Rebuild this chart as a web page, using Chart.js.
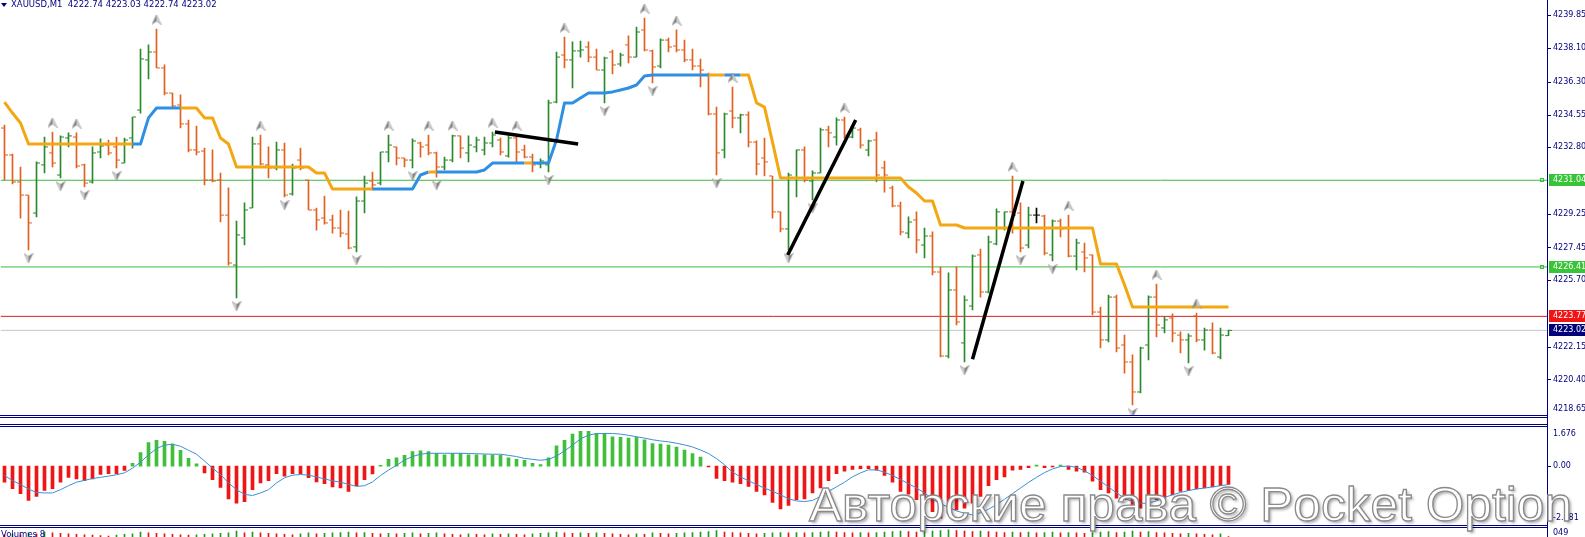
<!DOCTYPE html>
<html>
<head>
<meta charset="utf-8">
<title>XAUUSD,M1</title>
<script src="https://cdn.jsdelivr.net/npm/chart.js@4.4.1/dist/chart.umd.min.js"></script>
<style>
  html, body { margin: 0; padding: 0; background: #fff; overflow: hidden; }
  #wrap { position: relative; width: 1585px; height: 537px; overflow: hidden; background: #fff; }
  #wrap canvas { position: absolute; left: 0; }
  .sep { position: absolute; left: 0; width: 1548px; height: 1px; background: #000080; }
  #axisLine { position: absolute; left: 1547px; top: 0; width: 1px; height: 537px; background: #000080; }
  .txt { position: absolute; font-family: "DejaVu Sans", sans-serif; color: #000080; white-space: pre; }
  #header { left: 11px; top: -1px; font-size: 8.5px; }
  #tri { position: absolute; left: 1px; top: 3px; width: 0; height: 0;
         border-left: 3px solid transparent; border-right: 3px solid transparent; border-top: 4px solid #000080; }
  #watermark { position: absolute; left: 809px; top: 480px; font-family: "Liberation Sans", Arial, sans-serif;
               font-size: 49px; line-height: 49px; color: #fff; -webkit-text-stroke: 1.3px #8a8a8a;
               text-shadow: 2px 2px 3px rgba(0,0,0,.35); transform-origin: 0 0; white-space: nowrap; }
</style>
</head>
<body>
<div id="wrap">
  <canvas id="main" width="1585" height="415" style="top:0"></canvas>
  <canvas id="osc" width="1585" height="97" style="top:427px"></canvas>
  <canvas id="vol" width="1585" height="9" style="top:528px"></canvas>
  <div class="sep" style="top:415px"></div>
  <div class="sep" style="top:417px"></div>
  <div class="sep" style="top:424px"></div>
  <div class="sep" style="top:426px"></div>
  <div class="sep" style="top:525px"></div>
  <div class="sep" style="top:527px"></div>
  <div id="axisLine"></div>
  <div id="tri"></div>
  <div id="header" class="txt">XAUUSD,M1  4222.74 4223.03 4222.74 4223.02</div>
  <div class="txt" style="left:1px;top:529px;font-size:8.5px">Volumes 8</div>
  <div class="txt" style="left:1553px;top:528px;font-size:8px">049</div>
  <div id="watermark">Авторские права © Pocket Option</div>
</div>
<script>
// --- данные: котировки XAUUSD M1 (оценка по картинке) ---
const barOpen = [
  4233.83,4232.39,4230.95,4230.25,4229.29,4231.86,4232.50,4231.32,4233.30,4233.35,
  4231.86,4230.95,4232.55,4232.92,4232.82,4231.96,4233.30,4234.79,4237.47,4237.89,
  4237.04,4235.70,4235.06,4234.05,4232.66,4232.60,4231.05,4231.05,4229.18,4226.51,
  4227.96,4229.56,4232.98,4231.86,4231.70,4232.66,4230.31,4232.12,4231.05,4229.45,
  4229.02,4228.92,4228.49,4228.17,4227.48,4229.93,4231.00,4230.89,4232.55,4232.82,
  4232.23,4232.12,4233.03,4232.92,4232.50,4231.75,4232.12,4233.41,4232.50,4232.82,
  4232.66,4233.03,4233.19,4232.34,4233.30,4232.66,4232.28,4231.91,4231.86,4235.22,
  4237.73,4237.47,4237.95,4238.16,4237.62,4236.93,4237.89,4237.25,4238.27,4237.62,
  4239.07,4237.95,4237.14,4238.53,4238.21,4238.00,4237.47,4237.14,4236.66,4234.58,
  4232.66,4234.74,4234.37,4234.53,4233.08,4232.23,4231.27,4229.35,4228.44,4231.16,
  4232.66,4231.00,4231.43,4233.73,4233.35,4234.26,4233.35,4233.73,4232.66,4233.19,
  4231.70,4230.63,4229.67,4228.22,4228.92,4227.58,4228.06,4226.14,4221.65,4225.18,
  4222.35,4224.32,4227.05,4225.07,4227.64,4228.49,4229.35,4229.29,4227.58,4229.18,
  4229.13,4227.05,4228.86,4228.49,4226.99,4227.21,4227.05,4224.00,4222.51,4224.80,
  4222.24,4221.33,4219.73,4222.24,4224.80,4223.15,4223.68,4222.77,4222.51,4223.79,
  4222.51,4223.04,4221.60,4222.74
];
const barHigh = [
  4233.99,4232.44,4231.75,4230.25,4232.02,4233.35,4233.62,4233.41,4233.57,4233.57,
  4231.91,4232.82,4233.25,4233.19,4233.35,4233.30,4234.42,4238.05,4238.27,4239.12,
  4237.20,4235.70,4235.60,4234.26,4233.94,4232.76,4232.66,4231.43,4230.63,4228.86,
  4229.83,4233.35,4233.46,4232.82,4233.08,4233.03,4231.91,4232.76,4231.05,4229.56,
  4230.20,4229.18,4229.45,4229.40,4230.15,4231.27,4231.48,4232.55,4233.46,4232.82,
  4232.23,4233.25,4233.08,4233.46,4232.55,4232.28,4233.46,4233.41,4233.41,4233.35,
  4233.35,4233.62,4233.30,4233.46,4233.46,4232.92,4232.44,4232.18,4235.33,4237.89,
  4238.69,4238.43,4238.48,4238.43,4238.05,4237.62,4238.00,4237.84,4238.75,4239.23,
  4239.71,4238.00,4238.59,4238.64,4239.07,4238.53,4238.05,4237.52,4236.77,4234.95,
  4234.63,4236.02,4234.58,4234.69,4233.14,4233.30,4231.27,4229.35,4231.43,4232.66,
  4232.82,4231.54,4233.83,4233.94,4234.37,4234.42,4233.89,4233.83,4233.19,4233.62,
  4232.07,4230.73,4229.88,4229.08,4229.35,4228.49,4228.28,4226.41,4226.09,4226.41,
  4224.86,4227.05,4227.37,4228.06,4229.51,4229.35,4231.27,4229.83,4229.61,4229.56,
  4229.18,4228.92,4228.97,4229.18,4227.90,4227.69,4227.05,4224.27,4224.91,4224.91,
  4222.77,4221.71,4222.13,4224.86,4225.50,4223.74,4223.90,4222.94,4222.83,4223.95,
  4223.15,4223.42,4223.15,4223.03
];
const barLow = [
  4231.05,4230.84,4229.02,4227.32,4229.08,4231.43,4231.75,4231.16,4232.82,4231.70,
  4230.68,4230.89,4232.23,4232.39,4231.70,4231.96,4232.76,4234.63,4236.45,4237.04,
  4235.60,4234.95,4233.83,4232.55,4232.39,4230.79,4230.95,4228.81,4226.51,4224.75,
  4227.58,4229.56,4231.86,4231.16,4231.59,4230.15,4230.25,4231.59,4229.45,4228.38,
  4228.70,4228.22,4228.01,4227.37,4227.21,4229.29,4230.52,4230.79,4232.02,4231.86,
  4231.75,4231.70,4232.28,4232.39,4231.21,4231.59,4232.02,4232.23,4232.02,4232.55,
  4232.39,4232.82,4232.39,4232.28,4232.02,4232.23,4231.48,4231.70,4231.48,4235.17,
  4237.04,4235.97,4237.62,4237.36,4236.93,4235.17,4236.72,4237.14,4237.31,4237.62,
  4237.95,4236.24,4237.04,4237.89,4237.89,4237.36,4236.93,4236.02,4234.53,4231.32,
  4232.23,4233.83,4233.57,4232.82,4231.32,4231.27,4229.02,4228.28,4227.32,4230.15,
  4230.95,4229.99,4231.43,4232.82,4232.92,4233.30,4233.30,4232.76,4232.34,4230.95,
  4230.41,4229.61,4228.12,4227.96,4227.16,4226.89,4225.98,4221.60,4221.55,4223.31,
  4221.33,4224.11,4224.80,4225.02,4227.58,4228.38,4228.22,4227.21,4227.42,4228.76,
  4227.05,4226.73,4228.01,4226.94,4226.25,4226.14,4223.84,4222.08,4222.40,4221.87,
  4220.74,4219.04,4219.68,4221.44,4222.67,4222.88,4222.40,4221.81,4221.28,4222.40,
  4221.97,4221.76,4221.49,4222.74
];
const barClose = [
  4232.39,4230.95,4230.25,4228.76,4231.96,4232.82,4231.96,4233.35,4233.41,4231.80,
  4230.89,4232.50,4232.87,4232.50,4232.12,4233.19,4234.42,4237.52,4237.89,4237.04,
  4235.70,4235.01,4234.05,4232.66,4232.55,4231.05,4231.00,4229.18,4226.62,4228.12,
  4229.45,4232.98,4231.91,4231.70,4232.66,4230.25,4231.70,4231.70,4229.45,4228.92,
  4228.76,4228.49,4228.22,4227.42,4229.93,4230.89,4230.79,4232.55,4232.92,4232.23,
  4232.12,4233.14,4232.82,4232.50,4231.75,4232.12,4233.41,4232.76,4232.92,4233.19,
  4233.03,4233.46,4232.55,4233.30,4232.55,4232.28,4231.86,4232.07,4235.17,4237.62,
  4237.47,4237.95,4238.00,4237.62,4236.93,4237.57,4237.20,4237.73,4237.62,4238.96,
  4238.00,4237.09,4238.53,4238.16,4238.00,4237.47,4237.14,4236.93,4234.58,4232.50,
  4234.58,4234.37,4234.53,4233.08,4231.91,4232.02,4229.35,4228.44,4231.32,4232.66,
  4231.05,4231.43,4233.73,4233.57,4234.26,4233.46,4233.83,4232.92,4233.14,4231.32,
  4231.32,4229.67,4228.28,4228.81,4227.85,4228.06,4226.14,4221.65,4225.18,4223.47,
  4224.64,4226.99,4225.07,4227.74,4229.35,4229.35,4229.18,4227.42,4229.18,4229.18,
  4227.15,4228.86,4228.44,4226.99,4227.69,4226.89,4224.00,4222.51,4224.80,4222.08,
  4221.33,4219.73,4222.08,4224.80,4223.31,4223.58,4222.88,4222.51,4222.72,4222.51,
  4223.04,4221.81,4222.77,4223.02
];

// линия тренда (оранжевая / синяя ступенька)
const trendLine = [
  4235.22,4234.63,4234.10,4232.98,4232.98,4232.98,4232.98,4232.98,4232.98,4232.98,
  4232.98,4232.98,4232.98,4232.98,4232.98,4232.98,4232.98,4232.98,4234.37,4234.90,
  4234.90,4234.90,4234.90,4234.90,4234.90,4234.37,4234.37,4233.30,4232.98,4231.75,
  4231.75,4231.75,4231.75,4231.75,4231.75,4231.75,4231.75,4231.75,4231.75,4231.43,
  4231.43,4230.57,4230.57,4230.57,4230.57,4230.57,4230.57,4230.57,4230.57,4230.57,
  4230.57,4230.57,4231.32,4231.48,4231.48,4231.48,4231.48,4231.48,4231.48,4231.48,
  4231.59,4231.96,4231.96,4231.96,4231.96,4231.96,4231.96,4231.96,4231.96,4233.19,
  4235.17,4235.17,4235.44,4235.70,4235.70,4235.70,4235.76,4235.86,4235.97,4236.13,
  4236.61,4236.66,4236.66,4236.66,4236.66,4236.66,4236.66,4236.66,4236.66,4236.66,
  4236.66,4236.66,4236.66,4236.66,4235.17,4234.95,4233.08,4231.16,4231.16,4231.16,
  4231.16,4231.16,4231.16,4231.16,4231.16,4231.16,4231.16,4231.16,4231.16,4231.16,
  4231.16,4231.16,4231.16,4230.68,4230.36,4229.93,4229.93,4228.65,4228.65,4228.65,
  4228.49,4228.49,4228.49,4228.49,4228.49,4228.49,4228.49,4228.49,4228.49,4228.49,
  4228.49,4228.49,4228.49,4228.49,4228.49,4228.49,4228.49,4226.57,4226.57,4226.57,
  4225.45,4224.27,4224.27,4224.27,4224.27,4224.27,4224.27,4224.27,4224.27,4224.27,
  4224.27,4224.27,4224.27,4224.27
];
// отрезки, где линия синяя (восходящий тренд), по индексу бара
const trendUpRanges = [[17, 22], [47, 53], [55, 65], [67, 88], [91, 92]];

const fractalUp = [6, 9, 19, 32, 48, 53, 56, 61, 64, 70, 80, 84, 91, 105, 126, 133, 144, 149];
const fractalDown = [3, 7, 10, 14, 29, 35, 44, 51, 54, 68, 75, 81, 89, 98, 101, 120, 127, 131, 141, 148];

const greenLevels = [4231.04, 4226.41];
const redLevel = 4223.77;
const bidLevel = 4223.02;

// ручные трендовые линии: [индекс бара, цена]
const drawnLines = [
  [[61.3, 4233.62], [71.7, 4232.98]],
  [[97.9, 4227.05], [106.4, 4234.26]],
  [[121.0, 4221.48], [127.3, 4231.00]]
];

const priceTicks = [4239.85, 4238.10, 4236.30, 4234.55, 4232.80, 4229.25, 4227.45, 4225.70, 4222.15, 4220.40, 4218.65];
const oscTicks = [1.676, 0, -2.481];

// осциллятор: гистограмма и сигнальная линия
const macdHist = [
  -0.69,-0.97,-1.18,-1.47,-1.30,-1.04,-0.97,-0.69,-0.48,-0.55,
  -0.62,-0.55,-0.36,-0.32,-0.32,-0.19,0.12,0.58,1.01,1.11,
  1.06,0.94,0.68,0.33,0.10,-0.29,-0.58,-0.91,-1.41,-1.59,
  -1.52,-1.01,-0.72,-0.62,-0.32,-0.43,-0.32,-0.32,-0.50,-0.68,
  -0.75,-0.89,-0.94,-1.08,-0.84,-0.58,-0.33,0.03,0.29,0.36,
  0.46,0.62,0.65,0.62,0.55,0.48,0.55,0.55,0.48,0.48,
  0.48,0.48,0.46,0.36,0.29,0.25,0.12,0.07,0.36,0.87,
  1.11,1.37,1.49,1.49,1.40,1.40,1.26,1.23,1.20,1.23,
  1.13,0.97,0.94,0.90,0.82,0.69,0.54,0.39,-0.04,-0.53,
  -0.62,-0.69,-0.75,-0.87,-1.08,-1.23,-1.56,-1.84,-1.69,-1.44,
  -1.41,-1.15,-0.94,-0.62,-0.32,-0.22,-0.14,-0.11,-0.11,-0.17,
  -0.40,-0.69,-1.08,-1.20,-1.44,-1.59,-1.95,-2.23,-2.02,-1.88,
  -1.80,-1.59,-1.30,-0.84,-0.58,-0.46,-0.17,-0.14,-0.07,0.04,
  -0.07,-0.04,0.04,-0.14,-0.22,-0.26,-0.65,-1.01,-1.15,-1.37,
  -1.44,-1.66,-1.80,-1.59,-1.44,-1.37,-1.23,-1.08,-1.04,-0.98,
  -0.94,-0.89,-0.84,-0.79
];
const macdSignal = [
  -0.40,-0.62,-0.79,-0.98,-1.13,-1.15,-1.15,-1.01,-0.84,-0.69,
  -0.61,-0.53,-0.48,-0.43,-0.37,-0.29,-0.09,0.17,0.48,0.75,
  0.90,0.94,0.85,0.68,0.51,0.22,-0.09,-0.36,-0.72,-1.01,
  -1.21,-1.26,-1.15,-1.01,-0.72,-0.50,-0.39,-0.36,-0.39,-0.46,
  -0.55,-0.63,-0.69,-0.78,-0.87,-0.84,-0.68,-0.40,-0.17,0.03,
  0.26,0.41,0.51,0.55,0.55,0.55,0.55,0.55,0.54,0.53,
  0.52,0.51,0.51,0.46,0.41,0.33,0.29,0.25,0.29,0.43,
  0.65,0.90,1.16,1.33,1.39,1.40,1.40,1.37,1.32,1.26,
  1.20,1.13,1.08,1.04,0.98,0.91,0.82,0.69,0.54,0.32,
  0.06,-0.26,-0.46,-0.63,-0.79,-0.94,-1.08,-1.23,-1.40,-1.49,
  -1.52,-1.47,-1.30,-1.08,-0.89,-0.69,-0.46,-0.29,-0.16,-0.16,
  -0.26,-0.40,-0.58,-0.75,-0.94,-1.15,-1.41,-1.62,-1.76,-1.92,
  -2.02,-2.09,-2.00,-1.85,-1.65,-1.42,-1.18,-0.94,-0.70,-0.48,
  -0.28,-0.12,-0.02,0.00,-0.05,-0.20,-0.40,-0.65,-0.89,-1.15,
  -1.37,-1.52,-1.59,-1.59,-1.49,-1.34,-1.23,-1.13,-1.05,-0.98,
  -0.94,-0.89,-0.84,-0.79
];

// объёмы (видна только верхушка панели)
const volumes = [
  40,41,40,42,41,43,42,41.5,41,40.5,40,39.5,39,38.5,39.5,40.5,41,43,42,41.5,
  41,40.5,40,39.5,40,40.5,41,41.5,42,44,42,43,42,41.5,41,40.5,40,41,42,41,
  41.5,42,42.5,43,42,42.5,41.5,41,41.5,41,41.5,42,41,41.5,42,41,40.5,40,41,40.5,
  40,41,40.5,41,40.5,40,41,41.5,42,43,42,41.5,42,41.5,42,41.5,41,40.5,40,41,
  40.5,42,41.5,41,41.5,42,42.5,43,43.5,44.5,43,42.5,42,41.5,41,41.5,42,42.5,42,42.5,
  42,42.5,43,43.5,43,42.5,42,42.5,42,42.5,43,43.5,44,43.5,43,43.5,44,44.5,45.5,44.5,
  44,43.5,44,43.5,43,42.5,43,42.5,43,42,42.5,43,42,42.5,42,41.5,42.5,43,43.5,42.5,
  43,44,43,43.5,42.5,42,41.5,41,41.5,41,40.5,40,41,38
];

// --- оформление ---
const NAVY = '#000080';
const BULL = '#2b8a2b', BEAR = '#e2601d', DOJI = '#000000';
const ORANGE = '#f3a712', BLUE = '#2e8fe3';
const AXIS_FONT = '8px "DejaVu Sans"';
const PMIN = 4218.50, PMAX = 4240.67;
const XMAX = -0.5 + (1547 - 0.5) / 8;   // 8 px на бар

const idx = barOpen.map((_, i) => i);
const barColor = idx.map(i => barClose[i] > barOpen[i] ? BULL : (barClose[i] < barOpen[i] ? BEAR : DOJI));
const isUp = i => trendUpRanges.some(([a, b]) => i >= a && i <= b);

function arrowImg(up) {
  const c = document.createElement('canvas');
  c.width = 10; c.height = 10;
  const g = c.getContext('2d');
  g.translate(5, 5);
  if (!up) g.rotate(Math.PI);
  g.beginPath(); g.moveTo(0, -5); g.lineTo(-4.5, 4.5); g.lineTo(0, 1.5); g.closePath();
  g.fillStyle = '#808080'; g.fill();
  g.beginPath(); g.moveTo(0, -5); g.lineTo(4.5, 4.5); g.lineTo(0, 1.5); g.closePath();
  g.fillStyle = '#cfcfcf'; g.fill();
  g.strokeStyle = '#9a9a9a'; g.lineWidth = 0.6;
  g.beginPath(); g.moveTo(0, -5); g.lineTo(4.5, 4.5); g.lineTo(0, 1.5); g.lineTo(-4.5, 4.5); g.closePath(); g.stroke();
  return c;
}

// подписи правой шкалы в стиле MT4 (крайние прижимаются внутрь панели)
const mtAxis = {
  id: 'mtAxis',
  afterDraw(chart, args, o) {
    if (!o || !o.ticks) return;
    const { ctx, chartArea: a } = chart;
    const ys = chart.scales.y;
    ctx.save();
    ctx.font = AXIS_FONT;
    ctx.textBaseline = 'middle';
    ctx.textAlign = 'left';
    ctx.lineWidth = 1;
    o.ticks.forEach(v => {
      const py = ys.getPixelForValue(v);
      const ly = Math.min(Math.max(py, a.top + 7), a.bottom - 6);
      if (py > a.top + 3 && py < a.bottom - 3) {
        ctx.strokeStyle = NAVY;
        ctx.beginPath();
        ctx.moveTo(a.right + 1, Math.round(py) + 0.5);
        ctx.lineTo(a.right + 4, Math.round(py) + 0.5);
        ctx.stroke();
      }
      ctx.fillStyle = NAVY;
      ctx.fillText(o.format(v), a.right + 6, ly);
    });
    (o.boxes || []).forEach(b => {
      const py = Math.round(ys.getPixelForValue(b.value));
      ctx.fillStyle = b.bg;
      ctx.fillRect(a.right + 2, py - 6, chart.width - a.right - 2, 12);
      ctx.fillStyle = '#ffffff';
      ctx.fillText(b.value.toFixed(2), a.right + 6, py);
      if (b.marker) {
        ctx.strokeStyle = b.bg;
        ctx.strokeRect(a.right - 6.5, py - 1.5, 3, 3);
      }
    });
    ctx.restore();
  }
};

function hLine(value, color, order) {
  return { type: 'line', data: [{ x: -0.5, y: value }, { x: XMAX, y: value }],
           borderColor: color, borderWidth: 1, pointRadius: 0, order };
}

const baseOpts = (ymin, ymax) => ({
  responsive: false, animation: false, events: [],
  layout: { autoPadding: false, padding: { left: 0.5, right: 0, top: 0, bottom: 0 } },
  plugins: { legend: { display: false }, tooltip: { enabled: false } },
  scales: {
    x: { type: 'linear', min: -0.5, max: XMAX, offset: false, display: false },
    y: { position: 'right', min: ymin, max: ymax, beginAtZero: false,
         afterFit(s) { s.width = 38; },
         grid: { display: false }, border: { display: false }, ticks: { display: false } }
  }
});

// --- главная панель ---
const mainOpts = baseOpts(PMIN, PMAX);
mainOpts.plugins.mtAxis = {
  ticks: priceTicks,
  format: v => v.toFixed(2),
  boxes: [
    { value: greenLevels[0], bg: '#37c437', marker: true },
    { value: greenLevels[1], bg: '#37c437', marker: true },
    { value: redLevel, bg: '#f01414' },
    { value: bidLevel, bg: '#00007a' }
  ]
};

const upImg = arrowImg(true), downImg = arrowImg(false);

new Chart(document.getElementById('main'), {
  type: 'bar',
  plugins: [mtAxis],
  data: {
    datasets: [
      hLine(greenLevels[0], '#3dba3d', 40),
      hLine(greenLevels[1], '#3dba3d', 40),
      hLine(redLevel, '#d42020', 40),
      hLine(bidLevel, '#c6c6c6', 41),
      { label: 'range', data: idx.map(i => ({ x: i, y: [barLow[i], barHigh[i]] })),
        backgroundColor: barColor, barThickness: 1, grouped: false, order: 30 },
      { type: 'scatter', data: idx.map(i => ({ x: i - 0.25, y: barOpen[i] })),
        pointStyle: 'line', pointRadius: 1.5, borderColor: barColor, borderWidth: 1, order: 29 },
      { type: 'scatter', data: idx.map(i => ({ x: i + 0.25, y: barClose[i] })),
        pointStyle: 'line', pointRadius: 1.5, borderColor: barColor, borderWidth: 1, order: 29 },
      { type: 'line', data: idx.map(i => ({ x: i, y: trendLine[i] })), borderWidth: 3, pointRadius: 0,
        borderColor: ORANGE, borderJoinStyle: 'round',
        segment: { borderColor: c => isUp(c.p1DataIndex) ? BLUE : ORANGE }, order: 10 },
      { type: 'scatter', data: fractalUp.map(i => ({ x: i, y: barHigh[i] + 0.5 })),
        pointStyle: upImg, order: 5 },
      { type: 'scatter', data: fractalDown.map(i => ({ x: i, y: barLow[i] - 0.42 })),
        pointStyle: downImg, order: 5 },
      ...drawnLines.map(l => ({ type: 'line', data: l.map(p => ({ x: p[0], y: p[1] })),
        borderColor: '#000000', borderWidth: 3.5, pointRadius: 0, borderCapStyle: 'butt', order: 1 }))
    ]
  },
  options: mainOpts
});

// --- осциллятор ---
const oscOpts = baseOpts(oscTicks[2], oscTicks[0]);
oscOpts.plugins.mtAxis = { ticks: oscTicks, format: v => v === 0 ? '0.00' : v.toFixed(3) };

new Chart(document.getElementById('osc'), {
  type: 'bar',
  plugins: [mtAxis],
  data: {
    datasets: [
      { data: idx.map(i => ({ x: i, y: macdHist[i] })),
        backgroundColor: macdHist.map(v => v >= 0 ? '#3fbf3a' : '#ee1515'),
        barThickness: 3, grouped: false, order: 2 },
      { type: 'line', data: idx.map(i => ({ x: i, y: macdSignal[i] })),
        borderColor: '#3a8fd6', borderWidth: 1, pointRadius: 0, order: 1 }
    ]
  },
  options: oscOpts
});

// --- объёмы ---
const volOpts = baseOpts(37.5, 47.5);
new Chart(document.getElementById('vol'), {
  type: 'bar',
  data: {
    datasets: [
      { data: idx.map(i => ({ x: i, y: volumes[i] })),
        backgroundColor: volumes.map((v, i) => (i > 0 && v > volumes[i - 1]) ? '#1f9a1f' : '#e01515'),
        barThickness: 1, grouped: false }
    ]
  },
  options: volOpts
});

// водяной знак — подгоняем ширину
const wm = document.getElementById('watermark');
const w = wm.getBoundingClientRect().width;
wm.style.transform = 'scaleX(' + (763 / w) + ')';
</script>
</body>
</html>
